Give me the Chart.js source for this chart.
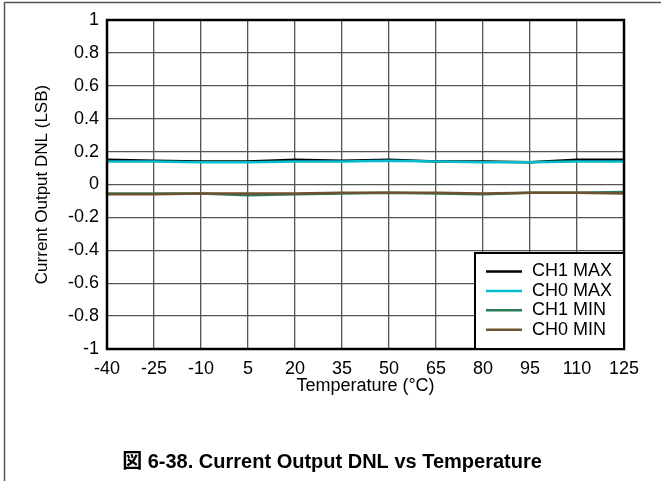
<!DOCTYPE html>
<html>
<head>
<meta charset="utf-8">
<script src="https://cdn.jsdelivr.net/npm/chart.js@4/dist/chart.umd.min.js"></script>
<style>
    html, body { margin: 0; padding: 0; background: #fff; }
    #wrap { width: 661px; height: 481px; position: relative; }
</style>
</head>
<body>
<div id="wrap"><canvas id="dnlChart" width="661" height="481"></canvas></div>
<script>
// Temperature points (°C)
const temperatures = [-40, -25, -10, 5, 20, 35, 50, 65, 80, 95, 110, 125];

// DNL in LSB
const ch1Max = [0.150, 0.145, 0.140, 0.140, 0.150, 0.145, 0.150, 0.140, 0.140, 0.135, 0.150, 0.150];
const ch0Max = [0.140, 0.140, 0.135, 0.135, 0.140, 0.140, 0.145, 0.140, 0.135, 0.135, 0.140, 0.140];
const ch1Min = [-0.055, -0.055, -0.055, -0.065, -0.060, -0.055, -0.050, -0.055, -0.060, -0.050, -0.050, -0.045];
const ch0Min = [-0.060, -0.060, -0.055, -0.055, -0.055, -0.050, -0.050, -0.050, -0.055, -0.050, -0.050, -0.055];

const seriesNames = ['CH1 MAX', 'CH0 MAX', 'CH1 MIN', 'CH0 MIN'];
const seriesColors = ['#000000', '#00bccc', '#2b7a58', '#6e5230'];
// later series sit on top (cyan over black, brown over green)
const drawOrder = [4, 3, 2, 1];

const FONT = '"Liberation Sans", Arial, sans-serif';

function toPoints(values) {
    return temperatures.map((t, i) => ({ x: t, y: values[i] }));
}

// frame, plot border, legend box and caption
const decorPlugin = {
    id: 'decor',
    beforeDraw(chart) {
        const ctx = chart.ctx;
        ctx.save();
        ctx.fillStyle = '#fff';
        ctx.fillRect(0, 0, chart.width, chart.height);
        ctx.strokeStyle = '#555';
        ctx.lineWidth = 1.5;
        ctx.beginPath();
        ctx.moveTo(4.5, chart.height);
        ctx.lineTo(4.5, 2.5);
        ctx.lineTo(chart.width, 2.5);
        ctx.stroke();
        ctx.restore();
    },
    afterDraw(chart) {
        const ctx = chart.ctx;
        const a = chart.chartArea;
        ctx.save();
        ctx.strokeStyle = '#000';
        ctx.lineWidth = 2.5;
        ctx.strokeRect(a.left, a.top, a.right - a.left, a.bottom - a.top);

        // legend inside the plot, bottom right
        const boxW = 149, boxH = 96;
        const bx = a.right - boxW, by = a.bottom - boxH;
        ctx.fillStyle = '#fff';
        ctx.fillRect(bx, by, boxW, boxH);
        ctx.lineWidth = 2;
        ctx.strokeRect(bx, by, boxW, boxH);
        ctx.font = '18px ' + FONT;
        ctx.textBaseline = 'middle';
        ctx.textAlign = 'left';
        chart.data.datasets.forEach((ds, i) => {
            const y = by + 18.5 + i * 19.4;
            ctx.strokeStyle = ds.borderColor;
            ctx.lineWidth = 2.5;
            ctx.beginPath();
            ctx.moveTo(bx + 11, y);
            ctx.lineTo(bx + 47, y);
            ctx.stroke();
            ctx.fillStyle = '#000';
            ctx.fillText(ds.label, bx + 57, y);
        });

        // figure caption
        ctx.font = 'bold 20px ' + FONT + ', "Noto Sans CJK JP"';
        ctx.textAlign = 'center';
        ctx.fillText('図 6-38. Current Output DNL vs Temperature', 332, 462);
        ctx.restore();
    }
};

new Chart(document.getElementById('dnlChart'), {
    type: 'line',
    data: {
        datasets: seriesNames.map((name, i) => ({
            label: name,
            data: toPoints([ch1Max, ch0Max, ch1Min, ch0Min][i]),
            borderColor: seriesColors[i],
            backgroundColor: seriesColors[i],
            borderWidth: 2.5,
            pointRadius: 0,
            tension: 0,
            order: drawOrder[i]
        }))
    },
    options: {
        responsive: false,
        animation: false,
        layout: { padding: { left: 0, top: 20, right: 37, bottom: 84 } },
        plugins: {
            legend: { display: false },
            tooltip: { enabled: false }
        },
        scales: {
            x: {
                type: 'linear',
                min: -40,
                max: 125,
                afterBuildTicks(scale) {
                    scale.ticks = temperatures.map(v => ({ value: v }));
                },
                afterFit(scale) { scale.height = 48; },
                ticks: {
                    color: '#000',
                    font: { family: FONT, size: 18 },
                    padding: 9,
                    maxRotation: 0,
                    autoSkip: false
                },
                grid: { color: '#555', lineWidth: 1.3, drawTicks: false },
                border: { display: false },
                title: {
                    display: true,
                    text: 'Temperature (°C)',
                    color: '#000',
                    font: { family: FONT, size: 18 },
                    padding: { top: 0, bottom: 0 }
                }
            },
            y: {
                min: -1,
                max: 1,
                afterFit(scale) { scale.width = 107; },
                ticks: {
                    stepSize: 0.2,
                    color: '#000',
                    font: { family: FONT, size: 18 },
                    padding: 8,
                    callback: v => String(Number(v.toFixed(1)))
                },
                grid: { color: '#555', lineWidth: 1.3, drawTicks: false },
                border: { display: false },
                title: {
                    display: true,
                    text: 'Current Output DNL (LSB)',
                    color: '#000',
                    font: { family: FONT, size: 17 },
                    padding: { top: 32, bottom: 0 }
                }
            }
        }
    },
    plugins: [decorPlugin]
});
</script>
</body>
</html>
